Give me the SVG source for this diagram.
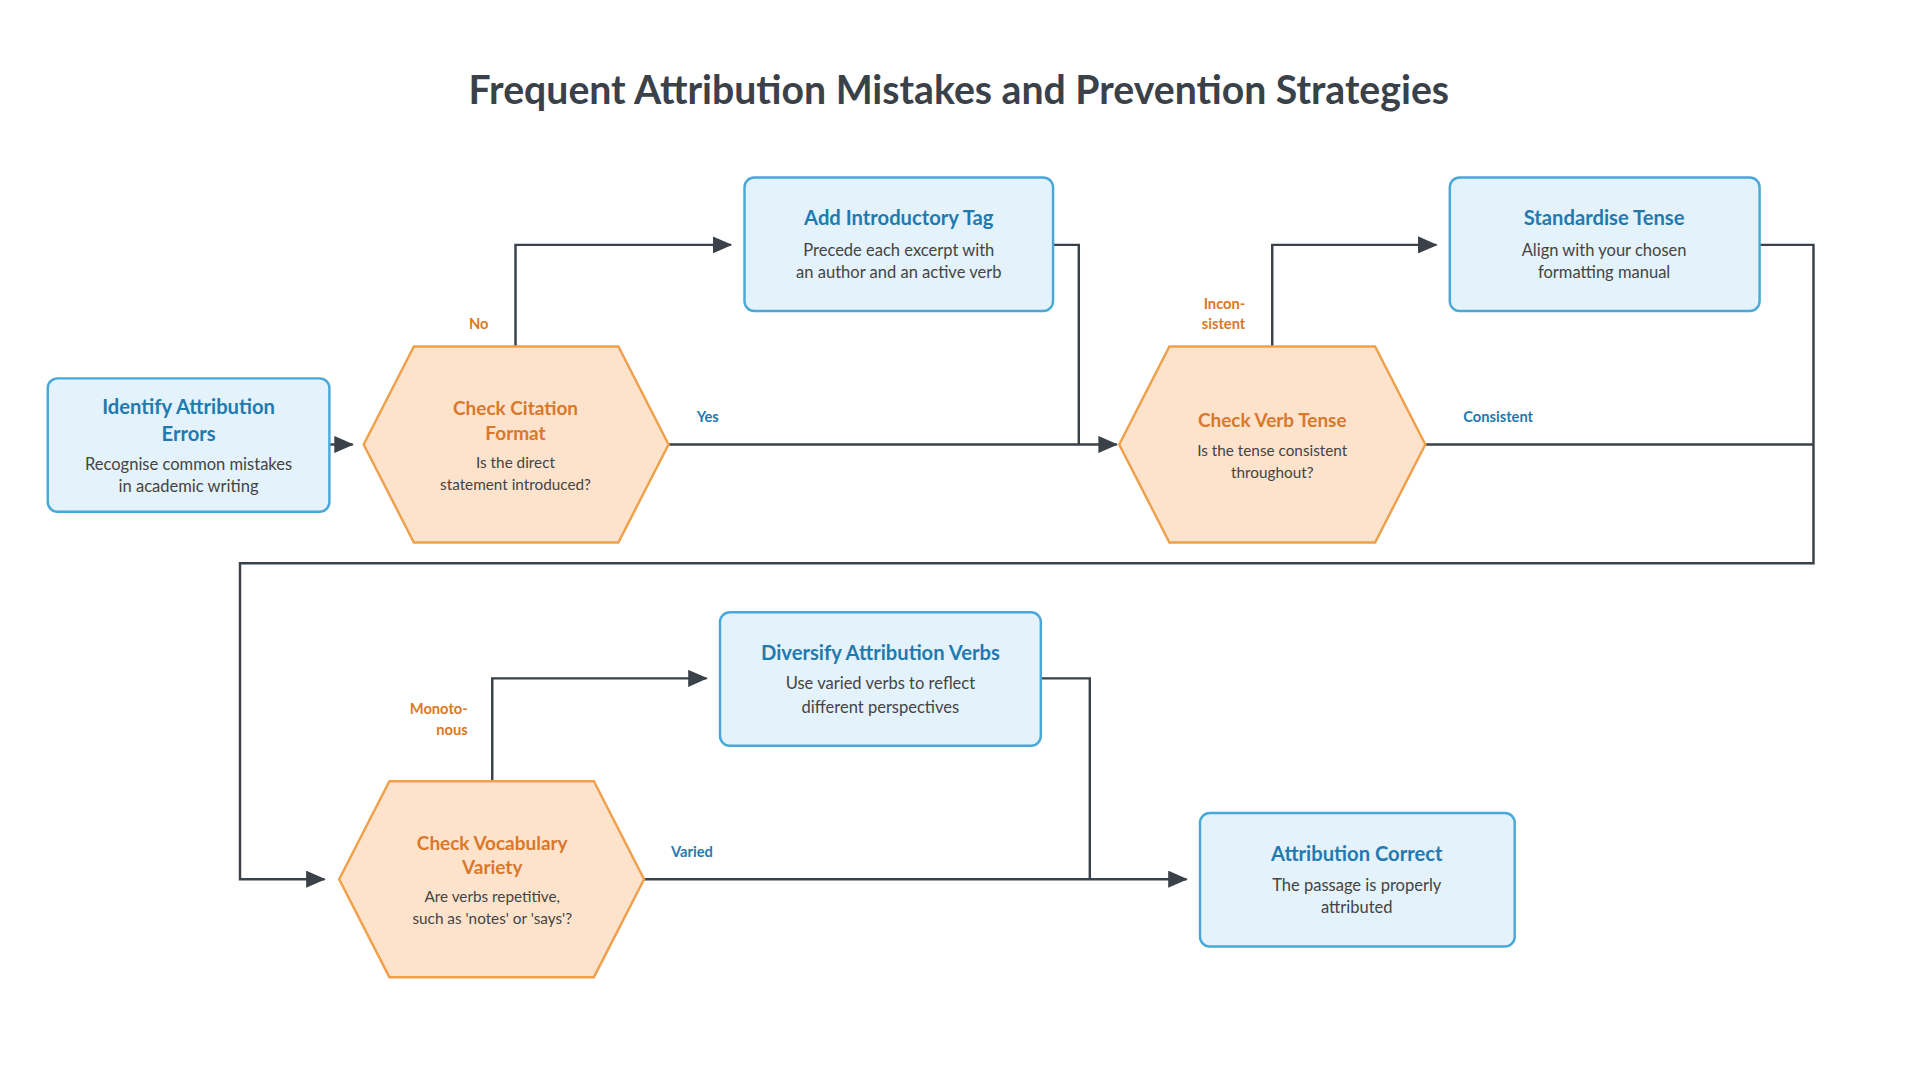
<svg xmlns="http://www.w3.org/2000/svg" width="1920" height="1080" viewBox="0 0 1920 1080">
<style>
.box{fill:#e3f2fb;stroke:#4aa8d8;stroke-width:2}
.hex{fill:#fde3cc;stroke:#f0a04b;stroke-width:2}
.bt{font-family:Lato,'Liberation Sans',sans-serif;font-weight:bold;font-size:16.5px;fill:#1f7ab0;text-anchor:middle}
.ht{font-family:Lato,'Liberation Sans',sans-serif;font-weight:bold;font-size:15.5px;fill:#d9782a;text-anchor:middle}
.d{font-family:Lato,'Liberation Sans',sans-serif;font-size:13.5px;fill:#444;text-anchor:middle}
.hd{font-family:Lato,'Liberation Sans',sans-serif;font-size:12.5px;fill:#444;text-anchor:middle}
.c{fill:none;stroke:#3a4149;stroke-width:2}
.lo{font-family:Lato,'Liberation Sans',sans-serif;font-weight:bold;font-size:12px;fill:#d9782a}
.lb{font-family:Lato,'Liberation Sans',sans-serif;font-weight:bold;font-size:12px;fill:#1f7ab0}
</style>
<defs>
<marker id="a" markerWidth="16" markerHeight="14" refX="15" refY="7" orient="auto" markerUnits="userSpaceOnUse"><path d="M0,0 L16,7 L0,14 Z" fill="#3a4149"/></marker>
</defs>
<rect width="1920" height="1080" fill="#fff"/>
<g transform="scale(1.2245)">
<text x="783" y="85" font-family="Lato,'Liberation Sans',sans-serif" font-weight="bold" font-size="32" fill="#3a4149" text-anchor="middle">Frequent Attribution Mistakes and Prevention Strategies</text>
<g id="connectors">
<path class="c" d="M269,363 H288" marker-end="url(#a)"/>
<path class="c" d="M421,283 V200 H597" marker-end="url(#a)"/>
<path class="c" d="M546,363 H912" marker-end="url(#a)"/>
<path class="c" d="M860,200 H881 V363"/>
<path class="c" d="M1039,283 V200 H1173" marker-end="url(#a)"/>
<path class="c" d="M1164,363 H1481"/>
<path class="c" d="M1437,200 H1481 V460 H196 V718 H265" marker-end="url(#a)"/>
<path class="c" d="M402,638 V554 H577" marker-end="url(#a)"/>
<path class="c" d="M526,718 H969" marker-end="url(#a)"/>
<path class="c" d="M850,554 H890 V718"/>
<text class="lo" x="391" y="269" text-anchor="middle">No</text>
<text class="lb" x="578" y="345" text-anchor="middle">Yes</text>
<text class="lo" x="1017" y="252" text-anchor="end">Incon-</text>
<text class="lo" x="1017" y="269" text-anchor="end">sistent</text>
<text class="lb" x="1195" y="345">Consistent</text>
<text class="lo" x="382" y="583" text-anchor="end">Monoto-</text>
<text class="lo" x="382" y="600" text-anchor="end">nous</text>
<text class="lb" x="548" y="700">Varied</text>
</g>
<g id="identify"><rect class="box" x="39" y="309" width="230" height="109" rx="8"/>
<text class="bt" x="154" y="338">Identify Attribution</text><text class="bt" x="154" y="360">Errors</text>
<text class="d" x="154" y="384">Recognise common mistakes</text><text class="d" x="154" y="402">in academic writing</text></g>
<g id="citation"><polygon class="hex" points="297,363 338,283 505,283 546,363 505,443 338,443"/>
<text class="ht" x="421" y="339">Check Citation</text><text class="ht" x="421" y="359">Format</text>
<text class="hd" x="421" y="382">Is the direct</text><text class="hd" x="421" y="400">statement introduced?</text></g>
<g id="tag"><rect class="box" x="608" y="145" width="252" height="109" rx="8"/>
<text class="bt" x="734" y="184">Add Introductory Tag</text>
<text class="d" x="734" y="209">Precede each excerpt with</text><text class="d" x="734" y="227">an author and an active verb</text></g>
<g id="tense"><polygon class="hex" points="914,363 955,283 1123,283 1164,363 1123,443 955,443"/>
<text class="ht" x="1039" y="349">Check Verb Tense</text>
<text class="hd" x="1039" y="372">Is the tense consistent</text><text class="hd" x="1039" y="390">throughout?</text></g>
<g id="standardise"><rect class="box" x="1184" y="145" width="253" height="109" rx="8"/>
<text class="bt" x="1310" y="184">Standardise Tense</text>
<text class="d" x="1310" y="209">Align with your chosen</text><text class="d" x="1310" y="227">formatting manual</text></g>
<g id="diversify"><rect class="box" x="588" y="500" width="262" height="109" rx="8"/>
<text class="bt" x="719" y="539">Diversify Attribution Verbs</text>
<text class="d" x="719" y="563">Use varied verbs to reflect</text><text class="d" x="719" y="582">different perspectives</text></g>
<g id="vocab"><polygon class="hex" points="277,718 318,638 485,638 526,718 485,798 318,798"/>
<text class="ht" x="402" y="694">Check Vocabulary</text><text class="ht" x="402" y="714">Variety</text>
<text class="hd" x="402" y="737">Are verbs repetitive,</text><text class="hd" x="402" y="755">such as 'notes' or 'says'?</text></g>
<g id="correct"><rect class="box" x="980" y="664" width="257" height="109" rx="8"/>
<text class="bt" x="1108" y="703">Attribution Correct</text>
<text class="d" x="1108" y="728">The passage is properly</text><text class="d" x="1108" y="746">attributed</text></g>
</g>
</svg>
